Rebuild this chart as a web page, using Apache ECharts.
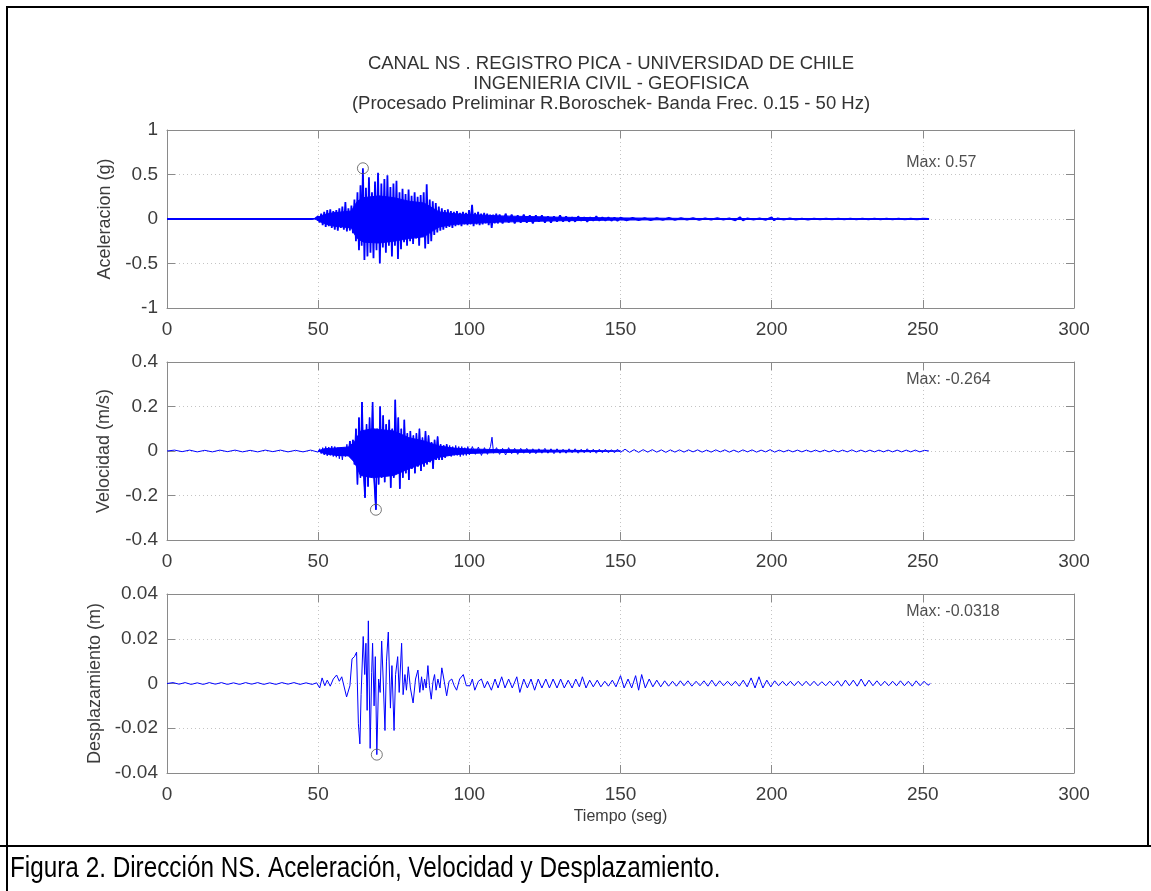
<!DOCTYPE html>
<html>
<head>
<meta charset="utf-8">
<script src="https://cdn.jsdelivr.net/npm/echarts@6/dist/echarts.min.js"></script>
<style>
html,body{margin:0;padding:0;background:#fff;}
#chart{width:1151px;height:891px;}
</style>
</head>
<body>
<div id="chart"></div>
<script>
// ---------------- DATA ----------------
const titleLines = [
  'CANAL NS . REGISTRO PICA - UNIVERSIDAD DE CHILE',
  'INGENIERIA CIVIL - GEOFISICA',
  '(Procesado Preliminar R.Boroschek- Banda Frec. 0.15 - 50 Hz)'
];
const captionText = 'Figura 2. Dirección NS. Aceleración, Velocidad y Desplazamiento.';
const xAxisName = 'Tiempo (seg)';
const panelNames = ['Aceleracion (g)', 'Velocidad (m/s)', 'Desplazamiento (m)'];
const maxLabels = ['Max: 0.57', 'Max: -0.264', 'Max: -0.0318'];
const timeTicks = [0, 50, 100, 150, 200, 250, 300];
const accelTicks = [-1, -0.5, 0, 0.5, 1];
const veloTicks = [-0.4, -0.2, 0, 0.2, 0.4];
const dispTicks = [-0.04, -0.02, 0, 0.02, 0.04];

// peak markers [time, value]
const accelPeak = [64.8, 0.57];
const veloPeak = [69.1, -0.264];
const dispPeak = [69.4, -0.0318];

// acceleration (g) read from the record
const accelData = [
[0,0],[48,0],[49,0.005],[49.5,-0.01],[50,0.03],[50.5,-0.04],[51,0.06],[51.5,-0.07],[52,0.08],[52.5,-0.09],
[53,0.1],[53.5,-0.08],[54,0.11],[54.5,-0.1],[55,0.09],[55.5,-0.12],[56,0.1],[56.5,-0.13],[57,0.12],[57.5,-0.1],
[58,0.14],[58.5,-0.12],[59,0.19],[59.5,-0.14],[60,0.12],[60.5,-0.13],[61,0.15],[61.5,-0.16],[62,0.22],[62.5,-0.25],
[63,0.3],[63.5,-0.35],[64,0.38],[64.4,-0.3],[64.8,0.57],[65.3,-0.46],[65.8,0.35],[66.3,-0.42],[66.8,0.47],[67.3,-0.38],
[67.8,0.3],[68.3,-0.44],[68.8,0.42],[69.3,-0.35],[69.8,0.52],[70.4,-0.5],[70.9,0.4],[71.4,-0.32],[71.9,0.45],[72.4,-0.38],
[72.9,0.49],[73.4,-0.3],[73.9,0.36],[74.4,-0.42],[74.9,0.4],[75.4,-0.3],[75.9,0.43],[76.4,-0.45],[76.9,0.3],[77.4,-0.34],
[77.9,0.34],[78.4,-0.26],[78.9,0.28],[79.4,-0.3],[79.9,0.33],[80.4,-0.25],[80.9,0.26],[81.4,-0.28],[81.9,0.3],[82.4,-0.22],
[82.9,0.25],[83.4,-0.3],[83.9,0.27],[84.4,-0.2],[84.9,0.3],[85.4,-0.33],[85.9,0.39],[86.4,-0.28],[86.9,0.22],[87.4,-0.25],
[87.9,0.2],[88.4,-0.18],[88.9,0.18],[89.4,-0.15],[89.9,0.14],[90.4,-0.13],[90.9,0.12],[91.4,-0.12],[91.9,0.1],[92.4,-0.1],
[92.9,0.11],[93.4,-0.09],[93.9,0.09],[94.4,-0.1],[94.9,0.08],[95.4,-0.08],[95.9,0.09],[96.4,-0.07],[96.9,0.07],[97.4,-0.08],
[97.9,0.08],[98.4,-0.06],[98.9,0.07],[99.4,-0.07],[99.9,0.1],[100.4,-0.06],[100.9,0.16],[101.4,-0.08],[101.9,0.07],[102.4,-0.06],
[102.9,0.08],[103.4,-0.07],[103.9,0.06],[104.4,-0.06],[104.9,0.07],[105.4,-0.05],[105.9,0.06],[106.4,-0.07],[106.9,0.05],[107.4,-0.1],
[107.9,0.05],[108.4,-0.05],[108.9,0.06],[109.4,-0.05],[110,0.05],[111,-0.05],[112,0.06],[113,-0.04],[114,0.05],[115,-0.05],
[116,0.04],[117,-0.04],[118,0.05],[119,-0.04],[120,0.04],[121,-0.05],[122,0.04],[123,-0.03],[124,0.04],[125,-0.04],
[126,0.03],[127,-0.04],[128,0.03],[129,-0.03],[130,0.04],[131,-0.03],[132,0.03],[133,-0.03],[134,0.02],[135,-0.03],
[136,0.03],[137,-0.02],[138,0.02],[139,-0.03],[140,0.02],[141,-0.02],[142,0.03],[143,-0.02],[144,0.02],[145,-0.02],
[146,0.02],[147,-0.02],[148,0.015],[149,-0.02],[150,0.015],[152,-0.015],[154,0.012],[156,-0.012],[158,0.01],[160,-0.012],
[162,0.01],[164,-0.01],[166,0.012],[168,-0.01],[170,0.01],[172,-0.008],[174,0.01],[176,-0.01],[178,0.008],[180,-0.008],
[182,0.01],[184,-0.008],[186,0.008],[188,-0.015],[189.5,0.02],[190.5,-0.015],[192,0.008],[194,-0.008],[196,0.006],[198,-0.01],
[200,0.02],[200.8,-0.015],[202,0.008],[204,-0.006],[206,0.006],[208,-0.006],[210,0.005],[212,-0.006],[214,0.005],[216,-0.005],
[218,0.005],[220,-0.005],[222,0.005],[224,-0.005],[226,0.004],[228,-0.005],[230,0.005],[232,-0.004],[234,0.004],[236,-0.004],
[238,0.004],[240,-0.004],[242,0.004],[244,-0.004],[246,0.003],[248,-0.004],[250,0.003],[252,0]
];
// solid (saturated) core of the acceleration trace
const accelCoreTop = [[49,0],[50,0.02],[52,0.05],[55,0.07],[58,0.08],[61,0.09],[62,0.15],[63,0.2],[65,0.24],[70,0.26],[75,0.24],
  [80,0.2],[85,0.18],[88,0.12],[90,0.08],[95,0.06],[100,0.05],[110,0.035],[130,0.02],[150,0.012],[175,0.006],[200,0.005],[252,0.003]];
const accelCoreBottom = [[49,0],[50,-0.02],[52,-0.05],[55,-0.08],[58,-0.09],[61,-0.1],[62,-0.17],[63,-0.22],[65,-0.26],[70,-0.27],[75,-0.25],
  [80,-0.22],[85,-0.2],[88,-0.13],[90,-0.09],[95,-0.06],[100,-0.05],[110,-0.035],[130,-0.02],[150,-0.012],[175,-0.006],[200,-0.005],[252,-0.003]];

// velocity (m/s) read from the record
const veloData = [
[0,0],[2.5,0.004],[5,-0.003],[7.5,0.004],[10,-0.004],[12.5,0.003],[15,-0.004],[17.5,0.004],[20,-0.003],[22.5,0.004],
[25,-0.004],[27.5,0.003],[30,-0.004],[32.5,0.004],[35,-0.003],[37.5,0.004],[40,-0.004],[42.5,0.003],[45,-0.004],[47.5,0.004],
[50,-0.005],[50.5,0.01],[51,-0.012],[51.5,0.015],[52,-0.018],[52.5,0.02],[53,-0.022],[53.5,0.018],[54,-0.02],[54.5,0.022],
[55,-0.025],[55.5,0.02],[56,-0.028],[56.5,0.015],[57,-0.035],[57.5,0.01],[58,-0.04],[58.5,0.015],[59,-0.025],[59.5,0.03],
[60,-0.02],[60.5,0.045],[61,-0.03],[61.5,0.05],[62,-0.06],[62.5,0.1],[63,-0.15],[63.5,0.15],[64,-0.12],[64.5,0.22],
[65,-0.08],[65.5,-0.21],[66,0.12],[66.5,-0.16],[67,0.15],[67.5,-0.1],[68,0.22],[68.5,-0.12],[69.1,-0.264],[69.5,0.1],
[70,-0.15],[70.5,0.2],[71,-0.12],[71.5,0.16],[72,-0.14],[72.5,0.12],[73,-0.1],[73.5,0.14],[74,-0.165],[74.5,0.1],
[75,-0.12],[75.5,0.23],[76,-0.08],[76.5,0.15],[77,-0.17],[77.5,0.1],[78,-0.12],[78.5,0.14],[79,-0.1],[79.5,0.08],
[80,-0.13],[80.5,0.09],[81,-0.08],[81.5,0.07],[82,-0.1],[82.5,0.08],[83,-0.07],[83.5,0.1],[84,-0.09],[84.5,0.06],
[85,-0.07],[85.5,0.09],[86,-0.06],[86.5,0.07],[87,-0.05],[87.5,0.04],[88,-0.08],[88.5,0.05],[89,-0.04],[89.5,0.065],
[90,-0.04],[90.5,0.03],[91,-0.04],[91.5,0.025],[92,-0.03],[92.5,0.03],[93,-0.02],[93.5,0.025],[94,-0.025],[94.5,0.02],
[95,-0.02],[95.5,0.025],[96,-0.02],[96.5,0.02],[97,-0.025],[97.5,0.02],[98,-0.02],[98.5,0.015],[99,-0.02],[99.5,0.02],
[100,-0.018],[101,0.02],[102,-0.015],[103,0.018],[104,-0.02],[105,0.015],[106,-0.015],[107,0.02],[107.5,0.062],[108,-0.01],
[109,0.015],[110,-0.015],[111,0.012],[112,-0.018],[113,0.015],[114,-0.012],[115,0.012],[116,-0.015],[117,0.012],[118,-0.01],
[119,0.012],[120,-0.012],[121,0.01],[122,-0.012],[123,0.01],[124,-0.01],[125,0.012],[126,-0.01],[127,0.01],[128,-0.012],
[129,0.01],[130,-0.01],[131,0.008],[132,-0.01],[133,0.01],[134,-0.008],[135,0.01],[136,-0.01],[137,0.008],[138,-0.008],
[139,0.01],[140,-0.008],[141,0.008],[142,-0.01],[143,0.008],[144,-0.008],[145,0.008],[146,-0.008],[147,0.006],[148,-0.008],
[149,0.008],[150,-0.006],[151.5,0.008],[153,-0.006],[154.5,0.006],[156,-0.006],[157.5,0.006],[159,-0.005],[160.5,0.006],[162,-0.005],
[163.5,0.005],[165,-0.006],[166.5,0.005],[168,-0.005],[169.5,0.005],[171,-0.005],[172.5,0.005],[174,-0.004],[175.5,0.005],[177,-0.005],
[178.5,0.004],[180,-0.005],[181.5,0.005],[183,-0.004],[184.5,0.005],[186,-0.005],[187.5,0.004],[189,-0.005],[190.5,0.005],[192,-0.004],
[193.5,0.005],[195,-0.005],[196.5,0.004],[198,-0.004],[199.5,0.006],[201,-0.005],[202.5,0.004],[204,-0.004],[205.5,0.004],[207,-0.004],
[208.5,0.004],[210,-0.004],[211.5,0.004],[213,-0.004],[214.5,0.004],[216,-0.004],[217.5,0.004],[219,-0.004],[220.5,0.004],[222,-0.004],
[223.5,0.004],[225,-0.004],[226.5,0.005],[228,-0.004],[229.5,0.004],[231,-0.004],[232.5,0.004],[234,-0.004],[235.5,0.004],[237,-0.004],
[238.5,0.004],[240,-0.004],[241.5,0.004],[243,-0.004],[244.5,0.004],[246,-0.004],[247.5,0.004],[249,-0.004],[250.5,0.003],[252,0]
];
// solid core of the velocity trace
const veloCoreTop = [[50,0],[52,0.01],[56,0.014],[60,0.018],[62,0.04],[64,0.09],[68,0.1],[75,0.09],[80,0.06],[85,0.045],[90,0.022],
  [95,0.013],[100,0.009],[110,0.006],[125,0.004],[140,0.002],[150,0]];
const veloCoreBottom = [[50,0],[52,-0.012],[56,-0.02],[60,-0.022],[62,-0.05],[64,-0.11],[68,-0.12],[75,-0.11],[80,-0.08],[85,-0.055],[90,-0.028],
  [95,-0.017],[100,-0.011],[110,-0.007],[125,-0.005],[140,-0.003],[150,0]];

// displacement (m) read from the record
const dispData = [
[0,0],[2,0.0004],[4,-0.0003],[6,0.0004],[8,-0.0004],[10,0.0003],[12,-0.0004],[14,0.0004],[16,-0.0003],[18,0.0004],
[20,-0.0004],[22,0.0003],[24,-0.0004],[26,0.0004],[28,-0.0003],[30,0.0004],[32,-0.0004],[34,0.0003],[36,-0.0004],[38,0.0004],
[40,-0.0003],[42,0.0004],[44,-0.0004],[46,0.0003],[48,-0.0004],[49.5,0.0003],[50.5,-0.002],[51.3,0.0025],[52.2,-0.001],[53,0.0015],
[54,-0.0012],[55,0.002],[56.1,0.0038],[57,0.001],[57.8,0.003],[59.4,-0.006],[60.5,-0.001],[61.2,0.011],[62,0.012],[62.7,0.014],
[63.3,-0.018],[63.8,-0.027],[64.2,-0.005],[64.9,0.021],[65.4,0.004],[65.8,0.018],[66.2,-0.012],[66.6,0.028],[67.2,-0.029],[67.7,0.005],
[68.0,0.018],[68.5,-0.01],[68.9,0.012],[69.4,-0.0318],[70,0.002],[70.5,-0.004],[71,0.019],[71.5,0.002],[72.1,-0.021],[72.6,0.01],
[73.2,0.023],[73.9,-0.011],[74.4,0.008],[75.1,-0.021],[75.6,0.004],[76.3,0.012],[76.8,-0.004],[77.6,0.018],[78.1,-0.005],[78.7,0.004],
[79.2,-0.003],[79.8,0.0075],[80.5,-0.002],[81.4,-0.0087],[82.2,0.002],[83,0.006],[83.6,-0.004],[84.2,0.003],[84.7,-0.003],[85.2,0.002],
[85.7,-0.002],[86.3,0.008],[86.8,-0.001],[87.4,-0.007],[88,0.001],[88.5,0.004],[89,-0.003],[89.6,0.002],[90.3,-0.002],[90.9,0.007],
[91.7,0.001],[92.5,-0.0055],[93.3,0.001],[94.2,0.002],[95,-0.001],[95.8,-0.003],[96.8,0.002],[98,0.004],[99,-0.001],[100.2,-0.001],
[101,0.002],[101.8,-0.003],[103,0.001],[104,0.002],[105,-0.002],[106,0.001],[107.3,-0.003],[108.5,0.002],[109.5,-0.002],[110.7,0.003],
[111.8,-0.002],[113,0.002],[114.2,-0.002],[115.7,0.003],[116.7,-0.004],[118,0.002],[119.2,-0.002],[120.4,0.002],[121.6,-0.003],[122.8,0.002],
[124,-0.002],[125.3,0.002],[126.5,-0.002],[127.7,0.002],[129,-0.002],[130.2,0.002],[131.4,-0.002],[132.7,0.0015],[134,-0.002],[135.2,0.002],
[136.4,-0.0015],[137.4,0.003],[138.6,-0.002],[139.8,0.0015],[141,-0.0015],[142.3,0.0015],[143.5,-0.0015],[144.8,0.001],[146,-0.0012],[147.3,0.0015],
[148.5,-0.0015],[150,0.0035],[151.2,-0.002],[152.5,0.002],[153.7,-0.002],[155,0.0035],[156,-0.003],[157,0.004],[158.2,-0.002],[159.5,0.002],
[160.7,-0.0015],[162,0.0015],[163.3,-0.0015],[164.6,0.0012],[165.9,-0.0012],[167.2,0.001],[168.5,-0.0012],[169.8,0.0012],[171,-0.001],[172.3,0.0012],
[173.6,-0.0012],[175,0.001],[176.3,-0.001],[177.6,0.0012],[178.9,-0.0012],[180.2,0.0015],[181.5,-0.0012],[182.8,0.0012],[184.1,-0.001],[185.4,0.001],
[186.7,-0.001],[188,0.001],[189.3,-0.0012],[190.6,0.0015],[191.9,-0.0015],[193.2,0.0025],[194.5,-0.002],[195.8,0.003],[197.1,-0.002],[198.4,0.0015],
[199.7,-0.0015],[201,0.0012],[202.3,-0.001],[203.6,0.001],[204.9,-0.001],[206.2,0.001],[207.5,-0.001],[208.8,0.001],[210.1,-0.001],[211.4,0.001],
[212.7,-0.001],[214,0.001],[215.3,-0.001],[216.6,0.0008],[217.9,-0.001],[219.2,0.001],[220.5,-0.001],[221.8,0.0012],[223.1,-0.0012],[224.4,0.0015],
[225.7,-0.001],[227,0.0015],[228.3,-0.0012],[229.6,0.002],[230.9,-0.0012],[232.2,0.0015],[233.5,-0.001],[234.8,0.0012],[236.1,-0.001],[237.4,0.001],
[238.7,-0.001],[240,0.001],[241.3,-0.001],[242.6,0.0012],[243.9,-0.001],[245.2,0.001],[246.5,-0.0012],[247.8,0.0012],[249.1,-0.001],[250.4,0.001],
[251.7,-0.0008],[252.5,0]
];

// ---------------- CHART ----------------
const FONT = 'Liberation Sans, Arial, Helvetica, sans-serif';
const TXT = '#3c3c3c';
const FRAME = '#8a8a8a';
const GRIDC = '#c4c4c4';
const BLUE = '#0000ff';

// strong-motion window of velocity drawn with a heavier stroke (same data, subset)
const veloStrong = veloData.filter(d => d[0] >= 60 && d[0] <= 93);

const panels = [
  {top: 130, height: 178, ticks: accelTicks, data: accelData, width: 1.8, core: [accelCoreTop, accelCoreBottom], peak: accelPeak, maxPos: [244.5, 0.63], nameGap: 52},
  {top: 362, height: 178, ticks: veloTicks, data: veloData, width: 1, strong: veloStrong, core: [veloCoreTop, veloCoreBottom], peak: veloPeak, maxPos: [244.5, 0.32], nameGap: 54},
  {top: 594, height: 179, ticks: dispTicks, data: dispData, width: 1, peak: dispPeak, maxPos: [244.5, 0.032], nameGap: 60}
];

function bandSeries(i, top, bottom) {
  return {
    type: 'custom', xAxisIndex: i * 2, yAxisIndex: i * 2, data: [[top[0][0], 0]],
    animation: false, silent: true, z: 2,
    renderItem: function (params, api) {
      const pts = top.map(d => api.coord(d)).concat(bottom.slice().reverse().map(d => api.coord(d)));
      return {type: 'polygon', shape: {points: pts}, style: {fill: BLUE, stroke: BLUE, lineWidth: 1}};
    }
  };
}

const grid = [], xAxis = [], yAxis = [], series = [];
panels.forEach((p, i) => {
  grid.push({left: 167, width: 907, top: p.top, height: p.height, show: false});
  const yMin = p.ticks[0], yMax = p.ticks[p.ticks.length - 1];
  const yInt = p.ticks[1] - p.ticks[0];
  const tickCommon = {show: true, inside: true, length: 8, lineStyle: {color: FRAME, width: 1}};
  xAxis.push({
    gridIndex: i, type: 'value', min: timeTicks[0], max: timeTicks[timeTicks.length - 1],
    interval: timeTicks[1] - timeTicks[0], position: 'bottom',
    axisLine: {show: true, onZero: false, lineStyle: {color: FRAME, width: 1}},
    axisTick: tickCommon,
    axisLabel: {show: true, color: TXT, fontSize: 19, fontFamily: FONT, margin: 12},
    splitLine: {show: true, lineStyle: {color: GRIDC, type: [1, 3], width: 1}},
    name: i === 2 ? xAxisName : '', nameLocation: 'middle', nameGap: 36,
    nameTextStyle: {color: TXT, fontSize: 16, fontFamily: FONT}
  });
  xAxis.push({
    gridIndex: i, type: 'value', min: timeTicks[0], max: timeTicks[timeTicks.length - 1],
    interval: timeTicks[1] - timeTicks[0], position: 'top',
    axisLine: {show: true, onZero: false, lineStyle: {color: FRAME, width: 1}},
    axisTick: tickCommon, axisLabel: {show: false}, splitLine: {show: false}
  });
  yAxis.push({
    gridIndex: i, type: 'value', min: yMin, max: yMax, interval: yInt, position: 'left',
    axisLine: {show: true, onZero: false, lineStyle: {color: FRAME, width: 1}},
    axisTick: tickCommon,
    axisLabel: {show: true, color: TXT, fontSize: 19, fontFamily: FONT, margin: 9,
      formatter: v => String(parseFloat(v.toFixed(4)))},
    splitLine: {show: true, lineStyle: {color: GRIDC, type: [1, 3], width: 1}},
    name: panelNames[i], nameLocation: 'middle', nameGap: p.nameGap, nameRotate: 90,
    nameTextStyle: {color: TXT, fontSize: 18, fontFamily: FONT}
  });
  yAxis.push({
    gridIndex: i, type: 'value', min: yMin, max: yMax, interval: yInt, position: 'right',
    axisLine: {show: true, onZero: false, lineStyle: {color: FRAME, width: 1}},
    axisTick: tickCommon, axisLabel: {show: false}, splitLine: {show: false}
  });

  if (p.core) series.push(bandSeries(i, p.core[0], p.core[1]));
  series.push({
    type: 'line', xAxisIndex: i * 2, yAxisIndex: i * 2, data: p.data,
    showSymbol: false, symbol: 'none', animation: false, silent: true,
    lineStyle: {color: BLUE, width: p.width}, z: 3
  });
  if (p.strong) {
    series.push({
      type: 'line', xAxisIndex: i * 2, yAxisIndex: i * 2, data: p.strong,
      showSymbol: false, symbol: 'none', animation: false, silent: true,
      lineStyle: {color: BLUE, width: 1.6}, z: 3
    });
  }
  series.push({
    type: 'scatter', xAxisIndex: i * 2, yAxisIndex: i * 2, data: [p.peak],
    symbol: 'circle', symbolSize: 11, animation: false, silent: true,
    itemStyle: {color: 'rgba(0,0,0,0)', borderColor: '#555', borderWidth: 1}, z: 4
  });
  series.push({
    type: 'scatter', xAxisIndex: i * 2, yAxisIndex: i * 2, data: [p.maxPos],
    symbolSize: 0, animation: false, silent: true,
    label: {show: true, position: 'right', distance: 0, formatter: maxLabels[i],
      color: '#222', fontSize: 16, fontFamily: FONT}, z: 5
  });
});

const option = {
  backgroundColor: '#ffffff',
  animation: false,
  title: {
    text: titleLines.join('\n'), left: 606, top: 49, textAlign: 'center',
    textStyle: {color: '#333', fontSize: 18.5, fontWeight: 'normal', fontFamily: FONT, lineHeight: 20}
  },
  grid, xAxis, yAxis, series,
  graphic: [
    {type: 'rect', shape: {x: 7, y: 7, width: 1141, height: 839}, style: {fill: 'none', stroke: '#000', lineWidth: 2}, silent: true},
    {type: 'line', shape: {x1: 0, y1: 846, x2: 1151, y2: 846}, style: {stroke: '#000', lineWidth: 2}, silent: true},
    {type: 'line', shape: {x1: 7, y1: 846, x2: 7, y2: 891}, style: {stroke: '#000', lineWidth: 2}, silent: true},
    {type: 'text', x: 10, y: 869, scaleX: 0.81, originX: 0, silent: true,
      style: {text: captionText, fill: '#000', fontSize: 30, verticalAlign: 'middle', align: 'left',
        fontFamily: 'Liberation Sans, Arial, sans-serif'}}
  ]
};

const chart = echarts.init(document.getElementById('chart'), null, {renderer: 'canvas'});
chart.setOption(option);
</script>
</body>
</html>
